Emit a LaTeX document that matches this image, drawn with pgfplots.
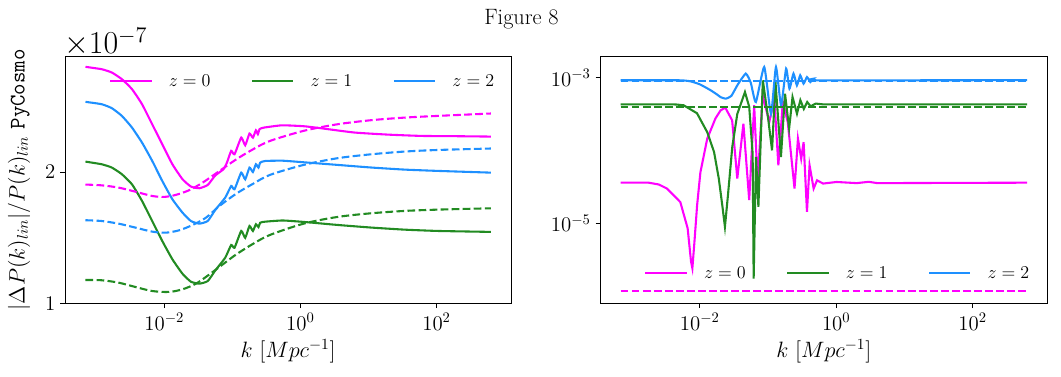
\RequirePackage{fix-cm}
\documentclass[border=0pt]{standalone}
\usepackage{pgfplots}
\pgfplotsset{compat=1.18}
\definecolor{cmag}{HTML}{FF00FF}
\definecolor{cgreen}{HTML}{228B22}
\definecolor{cblue}{HTML}{1E90FF}
\newcommand{\fs}[1]{\fontsize{#1}{#1}\selectfont}
\tikzset{dsh/.style={dash pattern=on 5.55pt off 2.4pt}}
\begin{document}
\begin{tikzpicture}
\useasboundingbox (-46.94pt,-52.34pt) rectangle (716.9pt,218.38pt);
\node[anchor=base, font=\fs{16}] at (328.5pt,200.4pt) {Figure 8};
\begin{axis}[name=ax1, scale only axis, height=178pt, width=321pt,
  at={(0pt,0pt)}, anchor=south west,
  xmode=log, xmin=3.5e-4, xmax=1245,
  xtick={1e-2,1,1e2}, xminorticks=false, yminorticks=false,
  tick pos=left,
  tick align=outside, major tick length=3.5pt,
  tick style={line width=0.8pt, black},
  axis line style={line width=0.8pt},
  tick label style={font=\fs{15}},
  label style={font=\fs{16}},
  xlabel={$k\ [Mpc^{-1}]$},
  ymin=1.0, ymax=2.886, ytick={1,2},
  ylabel={$|\Delta P(k)_{lin}|/P(k)_{lin}$ \texttt{PyCosmo}},
  ylabel style={yshift=4pt},
  legend columns=3,
  legend image code/.code={\draw[#1] (0pt,0pt) -- (29.7pt,0pt);},
  legend style={draw=none, fill=none, font=\fs{13}, nodes={inner sep=0pt},
    /tikz/every odd column/.append style={column sep=11.7pt},
    /tikz/every even column/.append style={column sep=29.2pt},
    at={(0.5305,0.898)}, anchor=center}]
\addplot[cmag, line width=1.5pt, smooth, tension=0.3] coordinates {(6.95e-4,2.804) (1.20e-3,2.786) (1.69e-3,2.761) (2.38e-3,2.71) (3.35e-3,2.634) (4.71e-3,2.519) (6.64e-3,2.366) (9.33e-3,2.214) (1.315e-2,2.061) (1.85e-2,1.947) (2.46e-2,1.891) (3.27e-2,1.878) (4.35e-2,1.903) (5.6e-2,1.975) (7.41e-2,2.023) (8.32e-2,2.073) (9.62e-2,2.163) (0.1076,2.137) (0.135,2.264) (0.1545,2.206) (0.1786,2.295) (0.2004,2.264) (0.2218,2.32) (0.2371,2.29) (0.2506,2.328) (0.2871,2.34) (0.535,2.358) (1.12,2.351) (1.98,2.336) (6.19,2.303) (19.4,2.287) (60.5,2.277) (189,2.275) (627,2.272)};
\addlegendentry{$z = 0$}
\addplot[cgreen, line width=1.5pt, smooth, tension=0.3] coordinates {(6.95e-4,2.081) (1.20e-3,2.061) (1.69e-3,2.036) (2.38e-3,1.985) (3.35e-3,1.908) (4.71e-3,1.781) (6.64e-3,1.628) (9.33e-3,1.476) (1.315e-2,1.336) (1.85e-2,1.226) (2.46e-2,1.165) (3.27e-2,1.150) (4.35e-2,1.170) (5.6e-2,1.25) (7.85e-2,1.348) (9.62e-2,1.445) (0.1076,1.424) (0.135,1.552) (0.1545,1.50) (0.1786,1.59) (0.2004,1.552) (0.2218,1.603) (0.242,1.582) (0.2564,1.615) (0.304,1.623) (0.55,1.632) (1.12,1.621) (3.51,1.598) (10.96,1.578) (34.3,1.562) (107,1.552) (627,1.545)};
\addlegendentry{$z = 1$}
\addplot[cblue, line width=1.5pt, smooth, tension=0.3] coordinates {(6.95e-4,2.537) (1.20e-3,2.519) (1.69e-3,2.489) (2.38e-3,2.430) (3.35e-3,2.341) (4.71e-3,2.226) (6.64e-3,2.087) (9.33e-3,1.934) (1.315e-2,1.794) (1.85e-2,1.692) (2.46e-2,1.628) (3.27e-2,1.608) (4.35e-2,1.628) (5.6e-2,1.712) (7.85e-2,1.806) (9.62e-2,1.895) (0.1076,1.87) (0.135,1.997) (0.1545,1.946) (0.1786,2.035) (0.2004,2.002) (0.2218,2.061) (0.242,2.035) (0.2564,2.073) (0.304,2.086) (0.55,2.088) (1.12,2.076) (3.51,2.056) (10.96,2.036) (34.3,2.02) (107,2.01) (627,1.997)};
\addlegendentry{$z = 2$}
\addplot[cmag, line width=1.5pt, dsh, smooth, forget plot] coordinates {(6.95e-4,1.906) (1.20e-3,1.90) (2.12e-3,1.883) (3.75e-3,1.852) (6.64e-3,1.819) (1e-2,1.812) (1.47e-2,1.827) (2.32e-2,1.863) (3.66e-2,1.921) (6.48e-2,2.01) (0.1146,2.099) (0.203,2.176) (0.358,2.239) (1.12,2.316) (3.51,2.366) (10.96,2.397) (34.3,2.417) (107,2.43) (627,2.448)};
\addplot[cblue, line width=1.5pt, dsh, smooth, forget plot] coordinates {(6.95e-4,1.634) (1.20e-3,1.628) (2.12e-3,1.608) (3.75e-3,1.578) (6.64e-3,1.547) (1.047e-2,1.539) (1.65e-2,1.557) (2.61e-2,1.598) (4.11e-2,1.654) (6.48e-2,1.743) (0.1146,1.837) (0.203,1.913) (0.358,1.98) (1.12,2.056) (3.51,2.107) (10.96,2.137) (34.3,2.158) (107,2.17) (627,2.181)};
\addplot[cgreen, line width=1.5pt, dsh, smooth, forget plot] coordinates {(6.95e-4,1.178) (1.20e-3,1.176) (2.12e-3,1.158) (3.75e-3,1.125) (6.64e-3,1.094) (1.17e-2,1.087) (1.85e-2,1.107) (2.92e-2,1.15) (4.61e-2,1.221) (7.27e-2,1.298) (0.1146,1.374) (0.203,1.455) (0.358,1.522) (1.12,1.608) (3.51,1.659) (10.96,1.687) (34.3,1.705) (107,1.715) (627,1.725)};
\end{axis}
\node[anchor=base west, inner sep=0pt, font=\fs{23}] at ([xshift=-1pt, yshift=1.7pt]ax1.north west) {$\times10^{-7}$};
\begin{axis}[scale only axis, height=178pt, width=321.8pt,
  at={(385.3pt,0pt)}, anchor=south west,
  xmode=log, xmin=3.5e-4, xmax=1245,
  xtick={1e-2,1,1e2}, xminorticks=false, yminorticks=false,
  tick pos=left,
  tick align=outside, major tick length=3.5pt,
  tick style={line width=0.8pt, black},
  axis line style={line width=0.8pt},
  tick label style={font=\fs{15}},
  label style={font=\fs{16}},
  xlabel={$k\ [Mpc^{-1}]$},
  ymode=log, ymin=7.9e-7, ymax=1.979e-3, ytick={1e-5,1e-3},
  legend columns=3,
  legend image code/.code={\draw[#1] (0pt,0pt) -- (29.7pt,0pt);},
  legend style={draw=none, fill=none, font=\fs{13}, nodes={inner sep=0pt},
    /tikz/every odd column/.append style={column sep=11.7pt},
    /tikz/every even column/.append style={column sep=29.2pt},
    at={(0.529,0.121)}, anchor=center}]
\addplot[cmag, line width=1.5pt] coordinates {(6.95e-4,3.6e-5) (1.78e-3,3.6e-5) (2.51e-3,3.4e-5) (3.31e-3,2.99e-5) (5.19e-3,1.95e-5) (6.65e-3,8.5e-6) (7.46e-3,2.95e-6) (7.80e-3,2.4e-6) (8.36e-3,5.5e-6) (9.16e-3,1.78e-5) (1.023e-2,5.0e-5) (1.288e-2,1.45e-4) (1.70e-2,2.75e-4) (2.02e-2,3.55e-4) (2.37e-2,3.87e-4) (2.985e-2,2.59e-4) (3.55e-2,4.1e-5) (4.365e-2,2.33e-4) (5.31e-2,2.07e-5) (0.0628,4.17e-4) (0.0705,3.68e-5) (0.0836,5.71e-4) (0.1045,2.45e-4) (0.124,5.14e-4) (0.142,6.24e-5) (0.165,4.62e-4) (0.195,2.45e-4) (0.245,2.99e-5) (0.275,1.45e-4) (0.307,7.7e-5) (0.333,1.30e-4) (0.373,1.43e-5) (0.407,6.24e-5) (0.467,2.99e-5) (0.524,3.88e-5) (0.643,3.5e-5) (1.01,3.68e-5) (2.0,3.55e-5) (3.0,3.7e-5) (4.0,3.55e-5) (627,3.6e-5)};
\addlegendentry{$z = 0$}
\addplot[cgreen, line width=1.5pt] coordinates {(6.95e-4,4.30e-4) (4.47e-3,4.28e-4) (5.81e-3,4.17e-4) (9.12e-3,3.24e-4) (1.288e-2,1.78e-4) (1.622e-2,9.5e-5) (1.905e-2,4.07e-5) (2.15e-2,1.7e-5) (2.34e-2,8.9e-6) (2.6e-2,2.5e-5) (3.0e-2,1.12e-4) (3.55e-2,3.16e-4) (4.6e-2,6.34e-4) (5.31e-2,3.98e-4) (5.96e-2,9.04e-5) (6.17e-2,1.73e-6) (6.68e-2,8.13e-5) (7.24e-2,1.67e-5) (8.41e-2,9.18e-4) (0.1,2.88e-4) (0.1148,1.0e-4) (0.1288,8.71e-4) (0.1549,8.13e-5) (0.1778,6.03e-4) (0.2042,2.0e-4) (0.2291,5.42e-4) (0.2661,3.2e-4) (0.2985,4.9e-4) (0.335,3.72e-4) (0.376,4.62e-4) (0.422,4.04e-4) (0.501,4.40e-4) (0.631,4.30e-4) (627,4.30e-4)};
\addlegendentry{$z = 1$}
\addplot[cblue, line width=1.5pt, smooth, tension=0.3] coordinates {(6.95e-4,9.2e-4) (5.0e-3,9.2e-4) (7.3e-3,8.9e-4) (1.0e-2,8.1e-4) (1.41e-2,6.8e-4) (1.78e-2,5.9e-4) (2.02e-2,5.4e-4) (2.4e-2,5.14e-4) (2.9e-2,5.6e-4) (3.6e-2,8.0e-4) (4.73e-2,1.135e-3) (5.6e-2,8.5e-4) (6.65e-2,4.62e-4) (8.81e-2,1.40e-3) (0.1107,3.2e-4) (0.131,1.40e-3) (0.1556,4.17e-4) (0.1845,1.33e-3) (0.2065,7.06e-4) (0.2366,1.135e-3) (0.2655,7.83e-4) (0.297,1.076e-3) (0.3327,8.28e-4) (0.3733,1.019e-3) (0.417,8.71e-4) (0.4667,9.68e-4) (0.573,9.18e-4) (627,9.25e-4)};
\addlegendentry{$z = 2$}
\addplot[cmag, line width=1.5pt, dsh, forget plot] coordinates {(6.95e-4,1.16e-6) (627,1.16e-6)};
\addplot[cgreen, line width=1.5pt, dsh, forget plot] coordinates {(6.95e-4,3.94e-4) (627,3.94e-4)};
\addplot[cblue, line width=1.5pt, dsh, forget plot] coordinates {(6.95e-4,9.1e-4) (627,9.1e-4)};
\end{axis}
\end{tikzpicture}
\end{document}
